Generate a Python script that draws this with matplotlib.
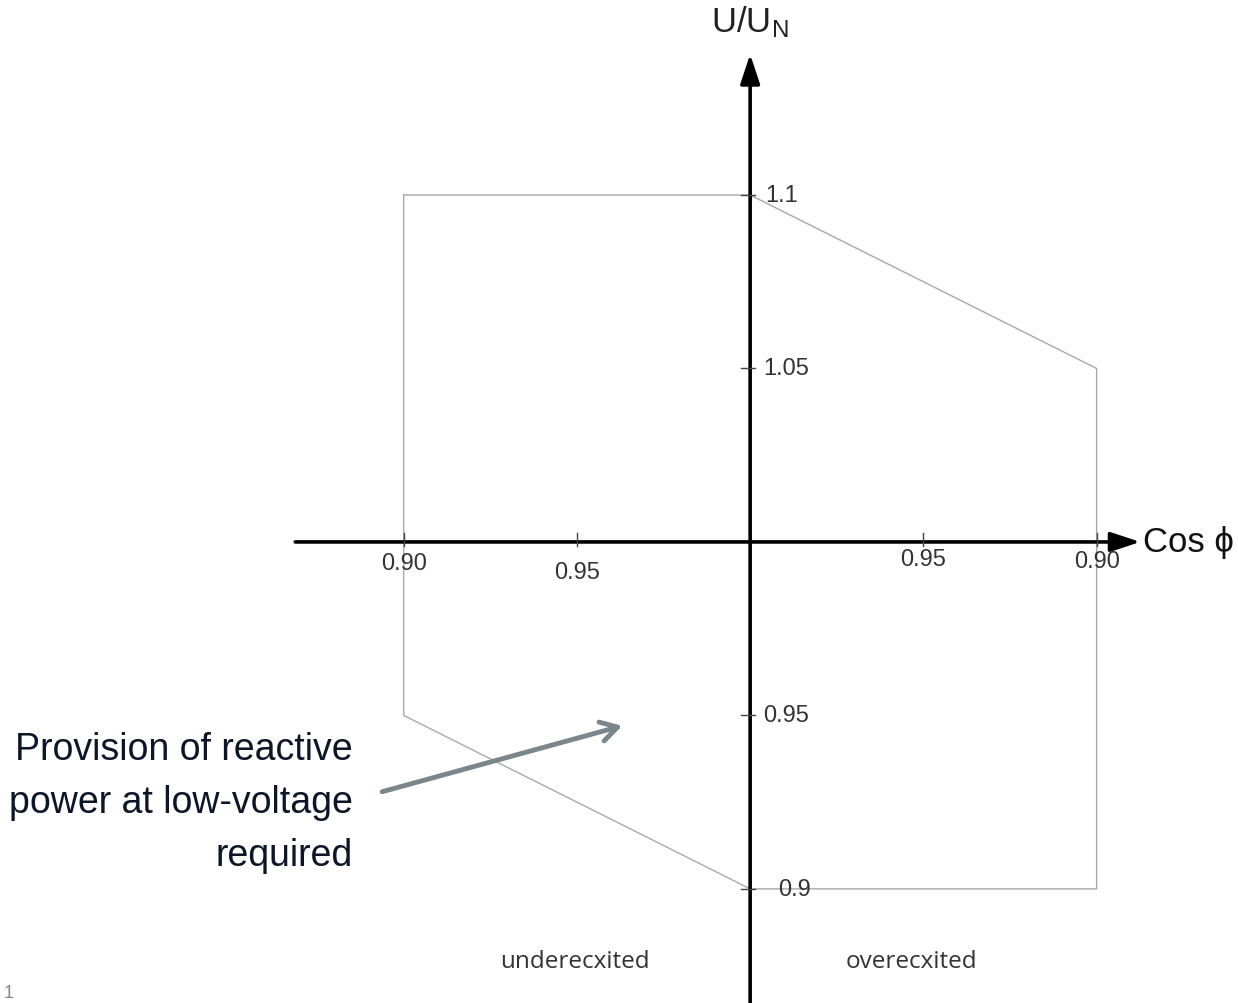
import matplotlib.pyplot as plt

plt.rcParams['font.family'] = ['Liberation Sans', 'DejaVu Sans']
plt.rcParams['mathtext.default'] = 'regular'

# boundary of the allowed operating area: (side, cos phi, U/UN)
side = ['under', 'under', 'over', 'over', 'over', 'under', 'under']
cos_phi = [0.90, 1.00, 0.90, 0.90, 1.00, 0.90, 0.90]
u_un = [1.10, 1.10, 1.05, 0.90, 0.90, 0.95, 1.10]

# axis ticks
x_tick_side = ['under', 'under', 'over', 'over']
x_tick_cos = [0.90, 0.95, 0.95, 0.90]
x_tick_labels = ['0.90', '0.95', '0.95', '0.90']
y_ticks = [1.1, 1.05, 0.95, 0.9]
y_tick_labels = ['1.1', '1.05', '0.95', '0.9']


def to_x(s, c):
    # underexcited to the left, overexcited to the right
    d = 1.0 - c
    return -d if s == 'under' else d


fig = plt.figure(figsize=(12.38, 10.04), dpi=100)
ax = fig.add_axes([0, 0, 1, 1])
ax.set_xlim(-0.2165, 0.1408)
ax.set_ylim(0.8671, 1.1565)
ax.axis('off')

# boundary polygon
xs = [to_x(s, c) for s, c in zip(side, cos_phi)]
ax.plot(xs, u_un, color='#a8a8a8', lw=1.0, zorder=2)

# axes with arrows
ax.annotate('', xy=(0.1126, 1.0), xytext=(-0.1313, 1.0),
            arrowprops=dict(arrowstyle='-|>,head_length=1.0,head_width=0.33',
                            mutation_scale=18, lw=2.6, color='black',
                            shrinkA=0, shrinkB=0), zorder=3)
ax.annotate('', xy=(0.0, 1.1406), xytext=(0.0, 0.85),
            arrowprops=dict(arrowstyle='-|>,head_length=1.0,head_width=0.33',
                            mutation_scale=18, lw=2.6, color='black',
                            shrinkA=0, shrinkB=0), zorder=3)

# x ticks
x_label_dy = [0.0060, 0.0086, 0.0050, 0.0055]
for s, c, lab, dy in zip(x_tick_side, x_tick_cos, x_tick_labels, x_label_dy):
    x = to_x(s, c)
    ax.plot([x, x], [1.0 - 0.0012, 1.0 + 0.0025], color='#444444', lw=1.0, zorder=3)
    ax.text(x, 1.0 - dy, lab, ha='center', va='center', fontsize=17, color='#333333')

# y ticks
y_label_dx = [0.0044, 0.0038, 0.0038, 0.0081]
for y, lab, dx in zip(y_ticks, y_tick_labels, y_label_dx):
    ax.plot([-0.0025, 0.0015], [y, y], color='#444444', lw=1.0, zorder=3)
    ax.text(dx, y, lab, ha='left', va='center', fontsize=17, color='#333333')

# axis titles
ax.text(0.0, 1.1500, 'U/U$_N$', ha='center', va='center', fontsize=25, color='#222222')
ax.text(0.1134, 1.0, 'Cos \u03d5', ha='left', va='center', fontsize=25, color='#111111')

# region labels
ax.text(-0.0505, 0.8793, 'underecxited', ha='center', va='center',
        fontsize=17.5, color='#333333', family=['Open Sans', 'DejaVu Sans'])
ax.text(0.0465, 0.8793, 'overecxited', ha='center', va='center',
        fontsize=17.5, color='#333333', family=['Open Sans', 'DejaVu Sans'])

# annotation
ax.text(-0.1146, 0.9250, 'Provision of reactive\npower at low-voltage\nrequired',
        ha='right', va='center', fontsize=27, color='#0d1626', linespacing=1.6)
ax.annotate('', xy=(-0.0369, 0.947), xytext=(-0.1062, 0.928),
            arrowprops=dict(arrowstyle='->,head_length=0.6,head_width=0.35',
                            mutation_scale=20, lw=3.5, color='#7a868c',
                            shrinkA=0, shrinkB=0), zorder=4)

# page number fragment
ax.text(0.003, 0.002, '1', transform=ax.transAxes, ha='left', va='bottom',
        fontsize=13, color='#888888')

fig.savefig('out.png', dpi=100)
